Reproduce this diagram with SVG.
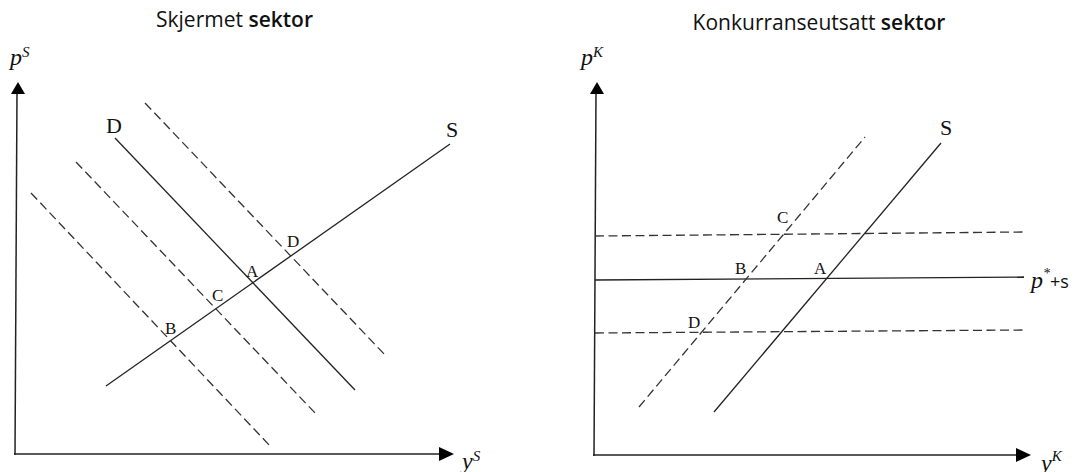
<svg xmlns="http://www.w3.org/2000/svg" width="1084" height="472" viewBox="0 0 1084 472">
<style>
.title{font-family:"Open Sans","Liberation Sans",sans-serif;font-size:21px;fill:#111;text-anchor:middle}
.b{font-weight:600}
.math{font-family:"Liberation Serif","DejaVu Serif",serif;font-style:italic;fill:#111;font-size:24px}
.sup{font-size:15px}
.lab{font-family:"Liberation Serif","DejaVu Serif",serif;fill:#111;font-size:17px}
.big{font-size:22px}
.ln{stroke:#222;stroke-width:1.3;fill:none}
.ds{stroke:#333;stroke-width:1.3;fill:none;stroke-dasharray:9 4.5}
.ax{stroke:#222;stroke-width:1.5;fill:none}
.ah{fill:#000}
</style>
<rect width="1084" height="472" fill="#fff"/>
<g id="left-panel">
  <text class="title" x="234.5" y="27">Skjermet <tspan class="b">sektor</tspan></text>
  <g id="left-axes">
    <line class="ax" x1="17" y1="92" x2="15" y2="455"/>
    <polygon class="ah" points="18,82 11,94 25,94"/>
    <line class="ax" x1="14" y1="454" x2="440" y2="454"/>
    <polygon class="ah" points="454,454 439,447 439,461"/>
    <text class="math" x="10" y="65">p<tspan class="sup" dy="-8">S</tspan></text>
    <text class="math" x="462" y="469">y<tspan class="sup" dy="-8">S</tspan></text>
  </g>
  <g id="left-curves">
    <line class="ln" x1="106" y1="386" x2="450" y2="144"/>
    <line class="ln" x1="115" y1="138" x2="355" y2="390"/>
    <line class="ds" x1="31" y1="193" x2="271" y2="447"/>
    <line class="ds" x1="76" y1="162" x2="316" y2="414"/>
    <line class="ds" x1="145" y1="103" x2="386" y2="356"/>
  </g>
  <g id="left-labels">
    <text class="lab big" x="106" y="133">D</text>
    <text class="lab big" x="446" y="137">S</text>
    <text class="lab" x="287" y="247">D</text>
    <text class="lab" x="246" y="277">A</text>
    <text class="lab" x="212" y="301">C</text>
    <text class="lab" x="165" y="334">B</text>
  </g>
</g>
<g id="right-panel">
  <text class="title" x="819" y="30">Konkurranseutsatt <tspan class="b">sektor</tspan></text>
  <g id="right-axes">
    <line class="ax" x1="596" y1="92" x2="594" y2="456"/>
    <polygon class="ah" points="597,82 590,94 604,94"/>
    <line class="ax" x1="593" y1="455" x2="1017" y2="455"/>
    <polygon class="ah" points="1031,455 1016,448 1016,462"/>
    <text class="math" x="581" y="65">p<tspan class="sup" dy="-8">K</tspan></text>
    <text class="math" x="1041" y="471">y<tspan class="sup" dy="-10">K</tspan></text>
  </g>
  <g id="right-curves">
    <line class="ds" x1="595" y1="236" x2="1024" y2="232"/>
    <line class="ln" x1="595" y1="280" x2="1024" y2="277"/>
    <line class="ds" x1="595" y1="333" x2="1024" y2="330"/>
    <line class="ds" x1="639" y1="407" x2="865" y2="137"/>
    <line class="ln" x1="714" y1="412" x2="941" y2="143"/>
  </g>
  <g id="right-labels">
    <text class="lab big" x="940" y="135">S</text>
    <text class="lab" x="777" y="223">C</text>
    <text class="lab" x="735" y="274">B</text>
    <text class="lab" x="814" y="274">A</text>
    <text class="lab" x="688" y="328">D</text>
    <text class="math" x="1031" y="288">p<tspan font-size="14" dy="-10">*</tspan><tspan dy="10" font-size="18" font-style="normal" font-family="Open Sans, Liberation Sans, sans-serif">+s</tspan></text>
  </g>
</g>
</svg>
